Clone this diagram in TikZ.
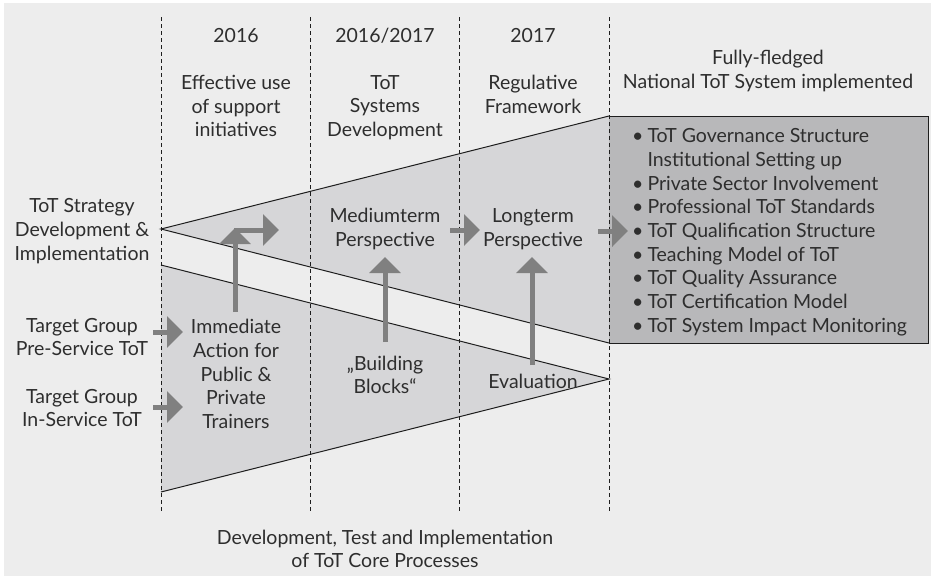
\documentclass[tikz,border=0pt]{standalone}
\usepackage{fontspec}
\setmainfont{Lato}
\usetikzlibrary{arrows.meta}
\definecolor{bggray}{HTML}{EDEDED}
\definecolor{wedgefill}{HTML}{D6D6D8}
\definecolor{boxfill}{HTML}{B8B8BA}
\definecolor{arrowgray}{HTML}{808080}
\definecolor{inkgray}{HTML}{2E2E2E}
\definecolor{linegray}{HTML}{1E1E1E}

\tikzset{
  txt/.style={inner sep=0pt, yshift=-2pt, align=center, text=inkgray, font=\fontsize{19.5}{23.7}\selectfont},
  phaseline/.style={linegray, line width=0.8pt, dash pattern=on 4pt off 3pt},
  edgeline/.style={linegray, line width=1pt},
  bigarrow/.style={arrowgray, line width=5pt, -{Triangle[width=31pt,length=16pt]}},
}

\begin{document}
\begin{tikzpicture}[x=1pt,y=-1pt]
\useasboundingbox (0,0) rectangle (934,579);

% Background
\fill[bggray] (4,3) rectangle (931,576);

%%% Wedges
% Upper wedge: strategy opening towards the national system
\fill[wedgefill] (161,229) -- (609,116) -- (609,343) -- cycle;
\draw[edgeline] (609,116) -- (161,229) -- (609,343);
% Lower wedge: core processes closing into evaluation
\fill[wedgefill] (161,265) -- (609,379) -- (161,492) -- cycle;
\draw[edgeline] (161,265) -- (609,379) -- (161,492);

% Result box
\fill[boxfill] (609,116) rectangle (928,343);
\draw[edgeline] (609,116) -- (928,116) -- (928,343) -- (609,343);

% Phase separators
\foreach \xx in {161,310,459,609}
  \draw[phaseline] (\xx,17) -- (\xx,513);

%%% Column heads
\node[txt] (y16)   at (236,34) {2016};
\node[txt] (y1617) at (385,34) {2016/2017};
\node[txt] (y17)   at (533,34) {2017};

\node[txt, anchor=north] (support) at (236,73) {Effective use\\of support\\initiatives};
\node[txt, anchor=north] (systems) at (385,73) {ToT\\Systems\\Development};
\node[txt, anchor=north] (regul)   at (533,73) {Regulative\\Framework};
\node[txt] (fully) at (768,69) {Fully-fledged\\National ToT System implemented};

%%% Row heads
\node[txt] (strategy) at (82,229) {ToT Strategy\\Development \&\\Implementation};
\node[txt] (pre) at (82,335) {Target Group\\Pre-Service ToT};
\node[txt] (inserv) at (82,406) {Target Group\\In-Service ToT};

%%% Inside the wedges
\node[txt] (medium) at (385,227) {Mediumterm\\Perspective};
\node[txt] (long)   at (533,227) {Longterm\\Perspective};
\node[txt] (immediate) at (236,372) {Immediate\\Action for\\Public \&\\Private\\Trainers};
\node[txt] (blocks) at (385,373) {„Building\\Blocks“};
\node[txt] (evaluation) at (533,379) {Evaluation};

% List in the box
\node[txt, align=left, anchor=north west] (system) at (632,124) {%
  \begin{tabular}{@{}l@{\hspace{4pt}}l@{}}
  • & ToT Governance Structure\\
    & Institutional Setting up\\
  • & Private Sector Involvement\\
  • & Professional ToT Standards\\
  • & ToT Qualification Structure\\
  • & Teaching Model of ToT\\
  • & ToT Quality Assurance\\
  • & ToT Certification Model\\
  • & ToT System Impact Monitoring
  \end{tabular}};

% Bottom caption
\node[txt] (core) at (385,547) {Development, Test and Implementation\\of ToT Core Processes};

%%% Arrows
\coordinate (preTail) at (153,332);  \coordinate (preTip) at (183,332);
\coordinate (inTail) at (153,407);   \coordinate (inTip) at (183,407);
\coordinate (immTail) at (235,312);  \coordinate (immTip) at (235,228);
\coordinate (bendTail) at (236,244); \coordinate (bendTip) at (279,230);
\coordinate (blkTail) at (385,342);  \coordinate (blkTip) at (385,257);
\coordinate (evTail) at (532,365);   \coordinate (evTip) at (532,257);
\coordinate (medTail) at (450,230);  \coordinate (medTip) at (480,230);
\coordinate (lngTail) at (598,231);  \coordinate (lngTip) at (628,231);

\draw[bigarrow] (preTail) -- (preTip);
\draw[bigarrow] (inTail) -- (inTip);
\draw[bigarrow] (bendTail) |- (bendTip);
\draw[bigarrow] (immTail) -- (immTip);
\draw[bigarrow] (blkTail) -- (blkTip);
\draw[bigarrow] (evTail) -- (evTip);
\draw[bigarrow] (medTail) -- (medTip);
\draw[bigarrow] (lngTail) -- (lngTip);

\end{tikzpicture}
\end{document}
